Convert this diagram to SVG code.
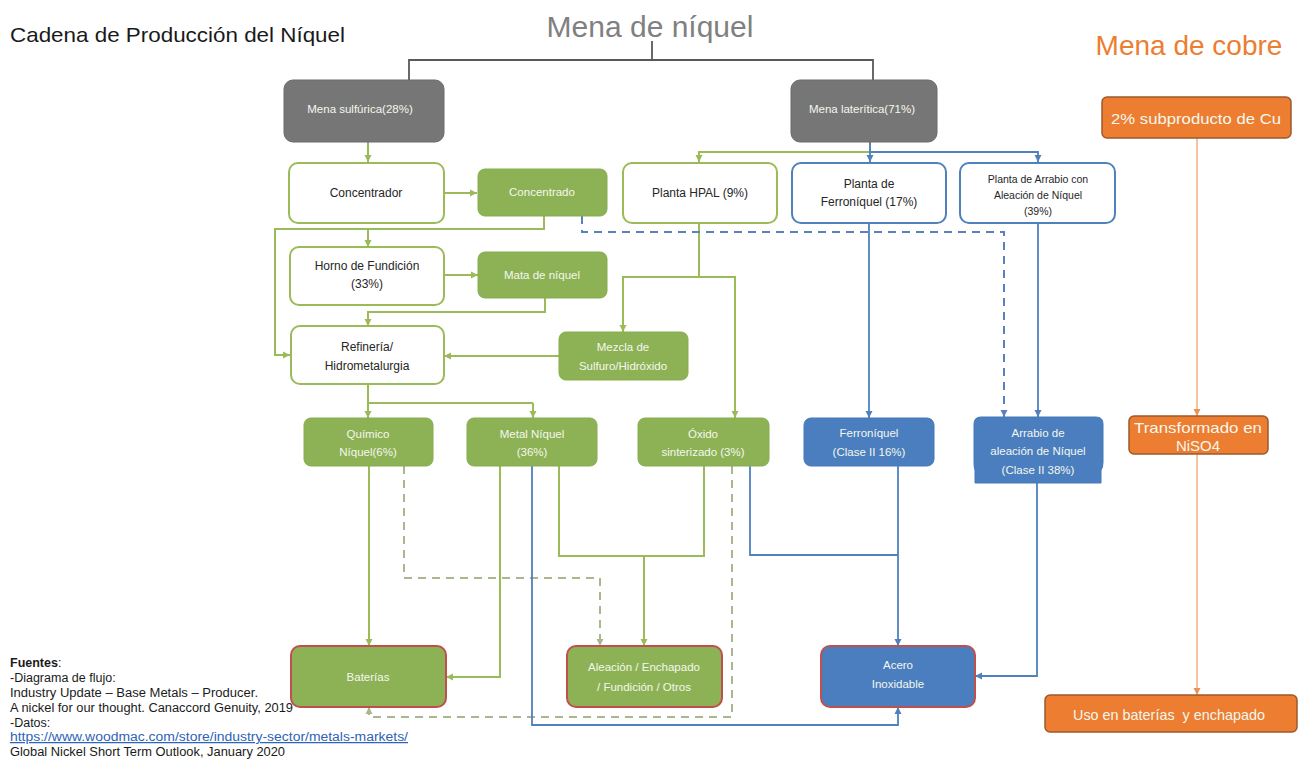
<svg xmlns="http://www.w3.org/2000/svg" width="1301" height="776" viewBox="0 0 1301 776">
<style>
.t{font-family:"Liberation Sans",Arial,sans-serif;font-size:11.5px;text-anchor:middle;dominant-baseline:central}
.tk{fill:#262626;font-size:12px}
.tw{fill:#F4F7EE}
.sm{font-size:10.5px}
.o14{font-size:15px}
.wg{fill:#fff;stroke:#9BBB59;stroke-width:2}
.wb{fill:#fff;stroke:#4F81BD;stroke-width:2}
.g{fill:#8DB255;stroke:#86AD4E;stroke-width:1}
.gy{fill:#767676;stroke:#6A6A6A;stroke-width:1}
.b{fill:#4A7EBE;stroke:#4678B8;stroke-width:1}
.o{fill:#ED7D31;stroke:#9C5A2C;stroke-width:1.5}
.eg{fill:#8DB255;stroke:#C0504D;stroke-width:2}
.eb{fill:#4A7EBE;stroke:#C0504D;stroke-width:2}
.lg{fill:none;stroke:#9BBB59;stroke-width:2}
.lb{fill:none;stroke:#4F81BD;stroke-width:1.8}
.ldg{fill:none;stroke:#A8B88E;stroke-width:2;stroke-dasharray:8 6}
.ldb{fill:none;stroke:#5B7FBF;stroke-width:2;stroke-dasharray:8 6}
.lo{fill:none;stroke:#F4B183;stroke-width:1.5}
.lk{fill:none;stroke:#595959;stroke-width:1.8}
.src{font-family:"Liberation Sans",Arial,sans-serif;font-size:12.5px;fill:#1a1a1a}
.lnk{fill:#2E63B8;text-decoration:underline}
</style>
<defs>
<marker id="ag" markerUnits="userSpaceOnUse" markerWidth="8" markerHeight="8" refX="7" refY="4" orient="auto"><path d="M0,0.5 L7,4 L0,7.5 z" fill="#9BBB59"/></marker>
<marker id="adg" markerUnits="userSpaceOnUse" markerWidth="8" markerHeight="8" refX="7" refY="4" orient="auto"><path d="M0,0.5 L7,4 L0,7.5 z" fill="#A8B88E"/></marker>
<marker id="ab" markerUnits="userSpaceOnUse" markerWidth="8" markerHeight="8" refX="7" refY="4" orient="auto"><path d="M0,0.5 L7,4 L0,7.5 z" fill="#4F81BD"/></marker>
<marker id="adb" markerUnits="userSpaceOnUse" markerWidth="8" markerHeight="8" refX="7" refY="4" orient="auto"><path d="M0,0.5 L7,4 L0,7.5 z" fill="#5B7FBF"/></marker>
<marker id="ao" markerUnits="userSpaceOnUse" markerWidth="8" markerHeight="8" refX="7" refY="4" orient="auto"><path d="M0,0.5 L7,4 L0,7.5 z" fill="#E8925A"/></marker>
</defs>
<rect width="1301" height="776" fill="#fff"/>

<text x="10" y="42" font-family="Liberation Sans,Arial,sans-serif" font-size="21" fill="#1a1a1a" textLength="335" lengthAdjust="spacingAndGlyphs">Cadena de Producción del Níquel</text>
<text x="650" y="37" font-family="Liberation Sans,Arial,sans-serif" font-size="30" fill="#808080" text-anchor="middle">Mena de níquel</text>
<text x="1189" y="55" font-family="Liberation Sans,Arial,sans-serif" font-size="28" fill="#ED7D31" text-anchor="middle">Mena de cobre</text>

<g id="connectors">
<path class="lk" d="M652,41 V60 M409,60 H873 M409,59 V80 M873,59 V80"/>
<path class="lg" d="M368,142 V162" marker-end="url(#ag)"/>
<path class="lg" d="M444,193 H477" marker-end="url(#ag)"/>
<path class="lg" d="M544,216 V229 H275 V355 H290" marker-end="url(#ag)"/>
<path class="lg" d="M368,229 V247" marker-end="url(#ag)"/>
<path class="lg" d="M444,275 H478" marker-end="url(#ag)"/>
<path class="lg" d="M545,298 V312 H368 V326" marker-end="url(#ag)"/>
<path class="lg" d="M559,356 H444" marker-end="url(#ag)"/>
<path class="lg" d="M870,142 V152 H699 V162" marker-end="url(#ag)"/>
<path class="lg" d="M699,223 V277 M622,277 H736"/>
<path class="lg" d="M623,277 V332" marker-end="url(#ag)"/>
<path class="lg" d="M735,277 V418" marker-end="url(#ag)"/>
<path class="lg" d="M368,384 V403 H533"/>
<path class="lg" d="M368,403 V418" marker-end="url(#ag)"/>
<path class="lg" d="M533,403 V418" marker-end="url(#ag)"/>
<path class="lg" d="M369,466 V646" marker-end="url(#ag)"/>
<path class="lg" d="M500,466 V677 H446" marker-end="url(#ag)"/>
<path class="lg" d="M559,466 V556 H704 V466"/>
<path class="lg" d="M644,556 V646" marker-end="url(#ag)"/>
<path class="ldg" d="M404,466 V578 H600 V646" marker-end="url(#adg)"/>
<path class="ldg" d="M732,466 V717 H369 V707" marker-end="url(#adg)"/>
<path class="lb" d="M870,142 V162" marker-end="url(#ab)"/>
<path class="lb" d="M870,152 H1038 V162" marker-end="url(#ab)"/>
<path class="lb" d="M869,223 V418" marker-end="url(#ab)"/>
<path class="lb" d="M1038,223 V417" marker-end="url(#ab)"/>
<path class="lb" d="M532,466 V725 H898 V707" marker-end="url(#ab)"/>
<path class="lb" d="M750,466 V555 H898"/>
<path class="lb" d="M898,466 V646" marker-end="url(#ab)"/>
<path class="lb" d="M1037,483 V676 H975" marker-end="url(#ab)"/>
<path class="ldb" d="M582,216 V232 H1004 V417" marker-end="url(#adb)"/>
<path class="lo" d="M1197,138 V416" marker-end="url(#ao)"/>
<path class="lo" d="M1197,454 V695" marker-end="url(#ao)"/>
</g>

<g id="mena-sulfurica"><rect class="gy" x="284" y="80" width="160" height="62" rx="9"/><text class="t tw" x="360" y="109">Mena sulfúrica(28%)</text></g>
<g id="mena-lateritica"><rect class="gy" x="791" y="80" width="146" height="62" rx="9"/><text class="t tw" x="862" y="109">Mena laterítica(71%)</text></g>

<g id="concentrador"><rect class="wg" x="289" y="163" width="155" height="60" rx="9"/><text class="t tk" x="366" y="193">Concentrador</text></g>
<g id="concentrado"><rect class="g" x="478" y="169" width="129" height="47" rx="7"/><text class="t tw" x="542" y="192">Concentrado</text></g>
<g id="horno"><rect class="wg" x="290" y="247" width="154" height="58" rx="9"/><text class="t tk" x="367" y="266">Horno de Fundición</text><text class="t tk" x="367" y="284">(33%)</text></g>
<g id="mata"><rect class="g" x="478" y="252" width="129" height="46" rx="7"/><text class="t tw" x="542" y="275">Mata de níquel</text></g>
<g id="refineria"><rect class="wg" x="291" y="326" width="153" height="58" rx="9"/><text class="t tk" x="367" y="347">Refinería/</text><text class="t tk" x="367" y="366">Hidrometalurgia</text></g>
<g id="mezcla"><rect class="g" x="559" y="332" width="129" height="48" rx="7"/><text class="t tw" x="623" y="347">Mezcla de</text><text class="t tw" x="623" y="366">Sulfuro/Hidróxido</text></g>
<g id="planta-hpal"><rect class="wg" x="623" y="163" width="154" height="60" rx="9"/><text class="t tk" x="700" y="193">Planta HPAL (9%)</text></g>
<g id="planta-ferroniquel"><rect class="wb" x="792" y="163" width="154" height="60" rx="9"/><text class="t tk" x="869" y="184">Planta de</text><text class="t tk" x="869" y="202">Ferroníquel (17%)</text></g>
<g id="planta-arrabio"><rect class="wb" x="960" y="163" width="155" height="60" rx="9"/><text class="t tk sm" x="1038" y="179">Planta de Arrabio con</text><text class="t tk sm" x="1038" y="195">Aleación de Níquel</text><text class="t tk sm" x="1038" y="211">(39%)</text></g>

<g id="quimico"><rect class="g" x="304" y="418" width="129" height="48" rx="7"/><text class="t tw" x="368" y="434">Químico</text><text class="t tw" x="368" y="452">Níquel(6%)</text></g>
<g id="metal"><rect class="g" x="467" y="418" width="130" height="48" rx="7"/><text class="t tw" x="532" y="434">Metal Níquel</text><text class="t tw" x="532" y="452">(36%)</text></g>
<g id="oxido"><rect class="g" x="638" y="418" width="131" height="48" rx="7"/><text class="t tw" x="703" y="434">Óxido</text><text class="t tw" x="703" y="452">sinterizado (3%)</text></g>
<g id="ferroniquel"><rect class="b" x="804" y="418" width="130" height="48" rx="7"/><text class="t tw" x="869" y="433">Ferroníquel</text><text class="t tw" x="869" y="452">(Clase II 16%)</text></g>
<g id="arrabio"><path class="b" d="M981,417 H1096 Q1103,417 1103,424 V462 Q1103,468 1101,470 V483 H975 V470 Q974,468 974,462 V424 Q974,417 981,417 Z"/><text class="t tw" x="1038" y="433">Arrabio de</text><text class="t tw" x="1038" y="451">aleación de Níquel</text><text class="t tw" x="1038" y="470">(Clase II 38%)</text></g>

<g id="baterias"><rect class="eg" x="291" y="646" width="155" height="61" rx="9"/><text class="t tw" x="368" y="677">Baterías</text></g>
<g id="aleacion"><rect class="eg" x="567" y="646" width="155" height="61" rx="9"/><text class="t tw" x="644" y="667">Aleación / Enchapado</text><text class="t tw" x="644" y="687">/ Fundición / Otros</text></g>
<g id="acero"><rect class="eb" x="821" y="646" width="154" height="61" rx="9"/><text class="t tw" x="898" y="665">Acero</text><text class="t tw" x="898" y="684">Inoxidable</text></g>

<g id="subproducto-cu"><rect class="o" x="1102" y="97" width="189" height="41" rx="5"/><text class="t tw o14" x="1196" y="118" textLength="170" lengthAdjust="spacingAndGlyphs">2% subproducto de Cu</text></g>
<g id="transformado"><rect class="o" x="1129" y="416" width="139" height="38" rx="5"/><text class="t tw o14" x="1198" y="427" textLength="128" lengthAdjust="spacingAndGlyphs">Transformado en</text><text class="t tw o14" x="1198" y="445">NiSO4</text></g>
<g id="uso-baterias"><rect class="o" x="1045" y="695" width="252" height="37" rx="5"/><text class="t tw o14" x="1169" y="714" textLength="192" lengthAdjust="spacingAndGlyphs">Uso en baterías&#160; y enchapado</text></g>

<g id="fuentes">
<text class="src" x="10" y="667"><tspan font-weight="bold">Fuentes</tspan>:</text>
<text class="src" x="10" y="682">-Diagrama de flujo:</text>
<text class="src" x="10" y="697" textLength="248" lengthAdjust="spacingAndGlyphs">Industry Update – Base Metals – Producer.</text>
<text class="src" x="10" y="712" textLength="283" lengthAdjust="spacingAndGlyphs">A nickel for our thought. Canaccord Genuity, 2019</text>
<text class="src" x="10" y="727">-Datos:</text>
<text class="src lnk" x="10" y="741" textLength="398" lengthAdjust="spacingAndGlyphs">https://www.woodmac.com/store/industry-sector/metals-markets/</text>
<text class="src" x="10" y="756" textLength="275" lengthAdjust="spacingAndGlyphs">Global Nickel Short Term Outlook, January 2020</text>
</g>
</svg>
